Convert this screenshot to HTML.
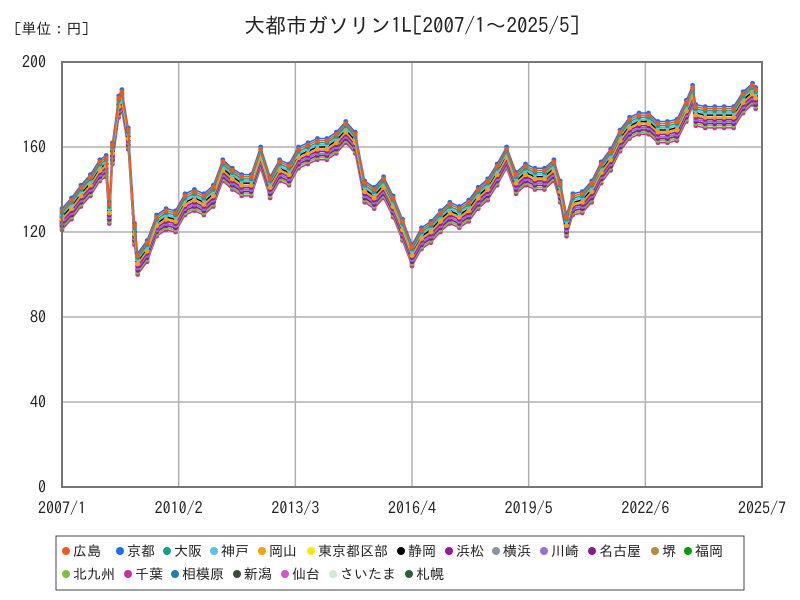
<!DOCTYPE html>
<html><head><meta charset="utf-8"><style>
body{margin:0;background:#fff;font-family:"IPAGothic","Noto Sans CJK JP",sans-serif;}
#wrap{position:relative;width:800px;height:600px;overflow:hidden;}
text{font-family:"IPAGothic","Noto Sans CJK JP",sans-serif;}
</style></head><body>
<div id="wrap">
<svg id="svg" width="800" height="600" xmlns="http://www.w3.org/2000/svg">
<text x="412" y="33" font-size="21" text-anchor="middle" fill="#222">大都市ガソリン1L[2007/1～2025/5]</text>
<text x="14" y="34" font-size="15" fill="#222">[単位：円]</text>
<g id="grid"></g><g id="series"></g><g id="axes"></g>
<rect x="56" y="536" width="688" height="54" fill="#fff" stroke="#444"/>
<g id="legend"></g>
</svg>
</div>
<script>
const dates=["2007/1","2007/4","2007/7","2007/10","2008/1","2008/3","2008/4","2008/5","2008/7","2008/8","2008/10","2008/12","2009/1","2009/4","2009/7","2009/10","2010/1","2010/4","2010/7","2010/10","2011/1","2011/4","2011/7","2011/10","2012/1","2012/4","2012/7","2012/10","2013/1","2013/4","2013/7","2013/10","2014/1","2014/4","2014/7","2014/10","2015/1","2015/4","2015/7","2015/10","2016/1","2016/4","2016/7","2016/10","2017/1","2017/4","2017/7","2017/10","2018/1","2018/4","2018/7","2018/10","2019/1","2019/4","2019/7","2019/10","2020/1","2020/3","2020/5","2020/7","2020/10","2021/1","2021/4","2021/7","2021/10","2022/1","2022/4","2022/7","2022/10","2023/1","2023/4","2023/7","2023/9","2023/10","2024/1","2024/4","2024/7","2024/10","2025/1","2025/4","2025/5"];
const base=[127,132,138,143,150,152,130,158,180,183,165,120,106,112,124,127,126,134,136,134,138,150,146,143,143,156,142,150,148,156,158,160,160,163,168,163,140,137,142,133,122,110,118,121,126,130,128,131,137,141,148,156,144,148,146,146,150,140,124,134,135,140,149,155,164,170,172,172,168,168,169,178,185,176,175,175,175,175,182,186,184];
const cities=["広島","京都","大阪","神戸","岡山","東京都区部","静岡","浜松","横浜","川崎","名古屋","堺","福岡","北九州","千葉","相模原","新潟","仙台","さいたま","札幌"];
const offsets=[3,4,2,1,-1,-1,0,-2,-2,-3,-4,-2,1,-5,-6,-1,-3,-5,-3,-4];
const colors=["#f05a1e","#1a6ef5","#13a085","#5bc0eb","#f0a30a","#ffe600","#000000","#a0139c","#8a94a0","#9370db","#8b1a8b","#b08d40","#0a9a0a","#7cbf3a","#c2339e","#1f7fa8","#3b4a3b","#d256c8","#cfe8d8","#2e5e3a"];
const yTicks=[0,40,80,120,160,200];
const xTicks=["2007/1","2010/2","2013/3","2016/4","2019/5","2022/6","2025/7"];
const NS="http://www.w3.org/2000/svg";
const X0=62,X1=762,Y0=487,Y1=62;
function mIdx(d){const p=d.split("/");return (+p[0]-2007)*12+(+p[1]-1);}
const mMax=mIdx("2025/7");
function xs(d){return X0+(X1-X0)*mIdx(d)/mMax;}
function ys(v){return Y0-(Y0-Y1)*v/200;}
function mk(tag,attrs,parent){const e=document.createElementNS(NS,tag);for(const k in attrs)e.setAttribute(k,attrs[k]);parent.appendChild(e);return e;}
const grid=document.getElementById("grid"),axes=document.getElementById("axes"),ser=document.getElementById("series"),leg=document.getElementById("legend");
yTicks.forEach(t=>{
 const l=mk("line",{x1:X0,x2:X1,y1:ys(t),y2:ys(t),stroke:"#b0b0b0","stroke-width":1.5},grid);
 
 
 const tx=mk("text",{x:46,y:ys(t)+6,"font-size":16,"text-anchor":"end",fill:"#222"},axes);
 tx.textContent=t;
 
 
});
xTicks.forEach(t=>{
 const l=mk("line",{x1:xs(t),x2:xs(t),y1:Y1,y2:Y0,stroke:"#b0b0b0","stroke-width":1.5},grid);
 
 
 const tx=mk("text",{x:xs(t),y:514,"font-size":16,"text-anchor":"middle",fill:"#222"},axes);
 tx.textContent=t;
 
 
});
const fr=mk("rect",{x:X0,y:Y1,width:X1-X0,height:Y0-Y1,fill:"none",stroke:"#777","stroke-width":2},axes);


for(let i=cities.length-1;i>=0;i--){
 const g=mk("g",{},ser);
 
 
 const pts=dates.map((d,j)=>xs(d).toFixed(1)+","+ys(base[j]+offsets[i]).toFixed(1)).join(" ");
 const pl=mk("polyline",{points:pts,fill:"none",stroke:colors[i],"stroke-width":1.5},g);
 
 
 dates.forEach((d,j)=>{
  const c=mk("circle",{cx:xs(d),cy:ys(base[j]+offsets[i]),r:2.4,fill:colors[i]},g);
  
  
 });
}
const lx=[62,116,163,210,258,307,397,445,492,540,588,651,684,62,124,171,233,281,329,405];
cities.forEach((c,i)=>{
 const row=i<13?0:1;const y=row?574:551;
 const g=mk("g",{},leg);
 
 
 mk("circle",{cx:lx[i]+4,cy:y,r:4,fill:colors[i]},g);
 const t=mk("text",{x:lx[i]+11,y:y+5,"font-size":14,fill:"#222"},g);
 t.textContent=c;
});
</script>
</body></html>
